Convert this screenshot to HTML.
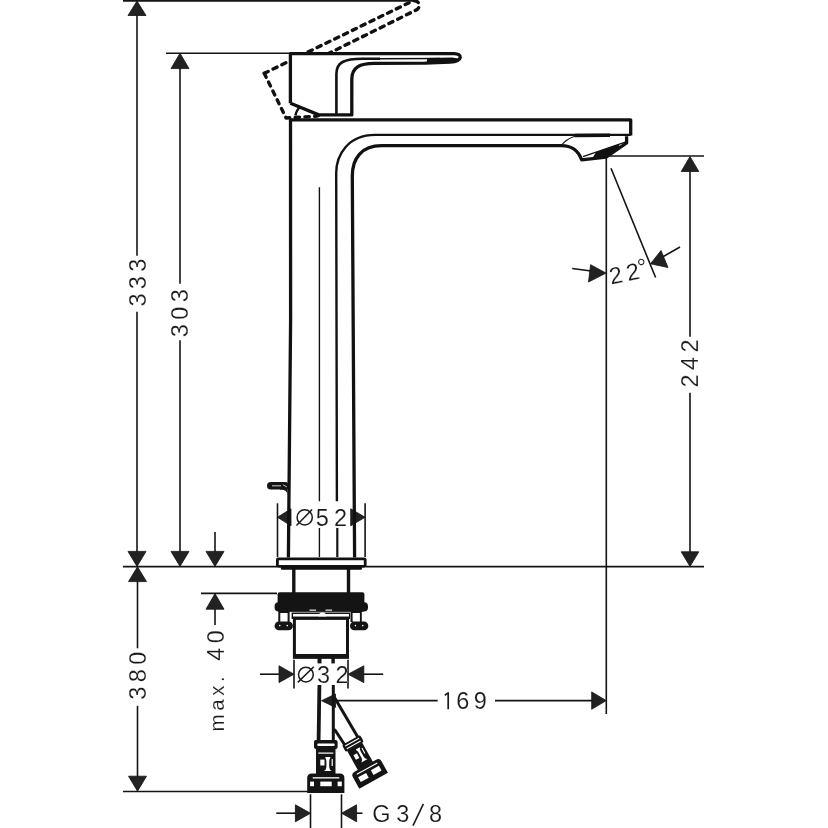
<!DOCTYPE html>
<html><head><meta charset="utf-8">
<style>
html,body{margin:0;padding:0;background:#fff;width:828px;height:828px;overflow:hidden}
svg{display:block;will-change:transform}
text{font-family:"Liberation Sans",sans-serif;fill:#1a1a1a}
</style></head><body>
<svg width="828" height="828" viewBox="0 0 828 828">
<rect width="828" height="828" fill="#fff"/>
<!-- ===== dimension lines ===== -->
<g stroke="#141414" stroke-width="1.6" fill="none">
  <line x1="123" y1="0.8" x2="414" y2="0.8" stroke-width="2"/>
  <!-- 333 -->
  <line x1="137" y1="14" x2="137" y2="255.7"/>
  <line x1="137" y1="311.7" x2="137" y2="553"/>
  <!-- 303 -->
  <line x1="166" y1="53.3" x2="291" y2="53.3"/>
  <line x1="180" y1="67" x2="180" y2="283.8"/>
  <line x1="180" y1="340.3" x2="180" y2="553"/>
  <!-- baseline -->
  <line x1="123" y1="566.6" x2="277" y2="566.6"/>
  <line x1="366" y1="566.6" x2="704" y2="566.6"/>
  <line x1="215" y1="532" x2="215" y2="553"/>
  <!-- 380 -->
  <line x1="137.5" y1="580" x2="137.5" y2="648.3"/>
  <line x1="137.5" y1="705.8" x2="137.5" y2="778"/>
  <line x1="123" y1="791.5" x2="308" y2="791.5"/>
  <!-- max 40 -->
  <line x1="201" y1="593.4" x2="277" y2="593.4"/>
  <line x1="215" y1="607" x2="215" y2="625"/>
  <!-- 242 -->
  <line x1="606" y1="156" x2="704" y2="156"/>
  <line x1="690" y1="170" x2="690" y2="336.8"/>
  <line x1="690" y1="392.8" x2="690" y2="553"/>
  <line x1="606.3" y1="156" x2="606.3" y2="714"/>
  <!-- 22 deg -->
  <line x1="611" y1="168.2" x2="655.6" y2="277.5"/>
  <line x1="572.2" y1="268.5" x2="593" y2="271.3"/>
  <line x1="680" y1="247" x2="662" y2="257.3"/>
  <!-- 169 -->
  <line x1="335" y1="700.6" x2="437.7" y2="700.6"/>
  <line x1="495" y1="700.6" x2="593" y2="700.6"/>
  <!-- D52 -->
  <line x1="277.5" y1="503.3" x2="277.5" y2="557"/>
  <line x1="365.1" y1="503.3" x2="365.1" y2="557"/>
  <!-- D32 -->
  <line x1="294" y1="659.7" x2="294" y2="688.5"/>
  <line x1="348" y1="659.7" x2="348" y2="688.5"/>
  <line x1="260" y1="674.2" x2="280" y2="674.2"/>
  <line x1="383.2" y1="674.2" x2="362" y2="674.2"/>
  <!-- G3/8 -->
  <line x1="310.5" y1="794.3" x2="310.5" y2="828"/>
  <line x1="341.5" y1="794.3" x2="341.5" y2="828"/>
  <line x1="276.3" y1="813.2" x2="297" y2="813.2"/>
  <line x1="362.4" y1="813.2" x2="355" y2="813.2"/>
  <!-- thin body lines -->
  <line x1="319.4" y1="187.3" x2="319.4" y2="501.2" stroke-width="1.4"/>
  <line x1="319.4" y1="528" x2="319.4" y2="557" stroke-width="1.4"/>
  <line x1="337.3" y1="528" x2="337.3" y2="557" stroke-width="2.2"/>
</g>
<!-- ===== arrowheads ===== -->
<g fill="#222" stroke="#111" stroke-width="0.8" stroke-miterlimit="10">
  <polygon points="137,1 128,15.5 146,15.5"/>
  <polygon points="137,566.4 128,551.4 146,551.4"/>
  <polygon points="180,53.2 171,68.6 189,68.6"/>
  <polygon points="180,566.4 171,551.4 189,551.4"/>
  <polygon points="215,566.4 206,551.4 224,551.4"/>
  <polygon points="137.5,566.8 128.5,581.6 146.5,581.6"/>
  <polygon points="137.5,791.2 128.5,776.2 146.5,776.2"/>
  <polygon points="215,593.6 206,609.2 224,609.2"/>
  <polygon points="690,156.5 681.2,171.5 698.8,171.5"/>
  <polygon points="690,566.4 681.2,551.8 698.8,551.8"/>
  <!-- 22 -->
  <polygon points="606,273.1 590.6,264.7 588.5,282.1"/>
  <polygon points="650.5,263.8 661,250.5 668,267.5"/>
  <!-- 169 -->
  <polygon points="606.2,700.6 591.7,691.9 591.7,709.3"/>
  <polygon points="321.5,700.7 335.5,694 335.5,707.4"/>
  <!-- D52 -->
  <polygon points="277.5,517.3 291,508.8 291,525.8"/>
  <polygon points="365.1,517.3 350.7,508.8 350.7,525.8"/>
  <!-- D32 -->
  <polygon points="294,674.2 279,665.8 279,682.6"/>
  <polygon points="348,674.2 363.8,665.8 363.8,682.6"/>
  <!-- G38 -->
  <polygon points="310.5,813.2 295.4,804.8 295.4,821.8"/>
  <polygon points="341.5,813.2 356.6,804.8 356.6,821.8"/>
</g>
<!-- ===== texts ===== -->
<g font-size="23.5" letter-spacing="4.4" stroke="#fff" stroke-width="0.15">
  <text transform="translate(145.6,280.4) rotate(-90)" text-anchor="middle">333</text>
  <text transform="translate(188.4,311) rotate(-90)" text-anchor="middle">303</text>
  <text transform="translate(146.2,673.5) rotate(-90)" text-anchor="middle">380</text>
  <text transform="translate(224,731.5) rotate(-90)" font-size="20.5" letter-spacing="3.6">max.</text>
  <text transform="translate(224,660.8) rotate(-90)" letter-spacing="4.4">40</text>
  <text transform="translate(698.3,361.2) rotate(-90)" text-anchor="middle">242</text>
  <text x="333.9" y="525.8" text-anchor="middle" letter-spacing="5.2">52</text>
  <text x="335.5" y="682.7" text-anchor="middle" letter-spacing="5.4">32</text>
  <text x="456.2" y="709.4">69</text>
  <path d="M444.8 695.2 L448.2 692.9 L448.2 709.3" fill="none" stroke="#1a1a1a" stroke-width="1.7" stroke-linejoin="round"/>
  <text x="372.3" y="821.7" letter-spacing="5.6">G3</text>
  <text x="428.9" y="821.7">8</text>
  <path d="M413 825.6 L423.4 803.8" fill="none" stroke="#1a1a1a" stroke-width="1.6"/>
  <text transform="translate(611,284.6) rotate(-11.5)">22<tspan dx="-5.5" dy="-3">°</tspan></text>
</g>
<g fill="none" stroke="#1a1a1a" stroke-width="1.5">
  <circle cx="304.7" cy="517.4" r="7.6"/>
  <line x1="296.5" y1="525.4" x2="312.1" y2="509.4"/>
  <circle cx="305.9" cy="674.6" r="7.4"/>
  <line x1="297.8" y1="682.4" x2="313.8" y2="666.8"/>
</g>
<!-- ===== faucet ===== -->
<!-- dashed raised handle -->
<g transform="translate(0.5,-0.8) rotate(-26 322.2 121.4)" fill="none" stroke="#111" stroke-width="3.4" stroke-dasharray="4.4 5.4" stroke-linecap="round" stroke-linejoin="round">
  <path d="M290.4 53.3 L455 53.3 A4.8 4.8 0 0 1 455 63 L335 63.8"/>
  <path d="M290.4 53.3 L290.4 103 L318.8 114.8 L352 115.4"/>
</g>
<!-- white occluder for real handle -->
<path d="M290.4 53.3 L455 53.3 A4.6 4.6 0 0 1 455 62.5 L374 63.6 L351.4 81.2 L351.4 114.9 L318.8 114.9 L290.4 103.3 Z" fill="#fff"/>
<g fill="none" stroke="#111" stroke-width="3.3" stroke-linejoin="round">
  <!-- handle -->
  <path d="M290.4 103.3 L290.4 53.6 L454 53.6 Q460.6 53.8 460.2 57.6 Q459.4 61.4 450 62.2 L425 63.2 L374.6 63.4 C359.6 63.4 351.8 67.4 351.8 79.4 L351.8 114.9 L318.8 114.9 L290.4 103.3"/>
  <path d="M336.4 114.9 L336.4 73.7 C336.4 62.5 344.2 58.7 362.4 58.7 L380 58.7" stroke-width="2.6"/>
  <path d="M378 58.8 L440 58.5" stroke-width="1.4"/>
  <path d="M427 57.9 L452 57.4 L458.5 58.6 Q456 62 450 62.6 L427 63.6 Z" fill="#111" stroke="none"/>
  <path d="M295.4 115.6 Q296.5 110 299.6 107.6" stroke-width="2.4"/>
  <!-- spout/body -->
  <path d="M288.4 557.5 L290.6 320 L290.5 119.9 L630.7 119.9 L630.7 135.4"/>
  <path d="M354.6 557.5 L352.3 176 C352.3 158 362 145.7 381.4 145.7 L561.2 145.7 C572 145.7 578 150 581.6 159.8 L606 157.2 L626.6 143 L626.6 136.2"/>
  <path d="M336.9 501.2 L336.2 173 C336.2 155 348 134.9 375 134.9 L630.7 134.9" stroke-width="2.4"/>
  <path d="M561.2 145.6 Q566 139 575 136.2" stroke-width="1.2"/>
  <path d="M575 135.5 L610 135.3" stroke-width="3.6"/>
</g>
<line x1="583" y1="156.6" x2="626" y2="141.8" stroke="#111" stroke-width="1.4"/>
<polygon points="592,158.8 606,157.4 621,147 618,144.6 596,152.2" fill="#111"/>
<!-- pop-up rod -->
<rect x="267" y="482.1" width="22" height="7.5" rx="3.75" fill="#141414"/>
<path d="M280 489 L287.5 489 L287.5 495 Q287 489.6 280 489.6 Z" fill="#141414"/>
<line x1="272" y1="485.8" x2="281" y2="485.8" stroke="#fff" stroke-width="1" opacity="0.8"/>
<line x1="283" y1="484.8" x2="287" y2="487" stroke="#fff" stroke-width="0.9" opacity="0.8"/>
<!-- base plate -->
<rect x="277.4" y="558.8" width="87.8" height="7.6" rx="1" fill="#fff" stroke="#111" stroke-width="2.8"/>
<rect x="280.9" y="565" width="81.1" height="4.7" rx="1" fill="#111"/>
<!-- stem -->
<g stroke="#141414" stroke-width="3">
  <line x1="293.8" y1="569" x2="293.8" y2="593" stroke-width="3.4"/>
  <line x1="348.5" y1="569" x2="348.5" y2="593" stroke-width="3.4"/>
</g>
<!-- nut -->
<g fill="#141414">
  <rect x="277.6" y="592.3" width="86.8" height="19.5" rx="2"/>
  <rect x="274.6" y="602.3" width="93.4" height="9.3" rx="4"/>
  <rect x="291.6" y="612.5" width="58.4" height="6.5"/>
  <rect x="278.3" y="611" width="11.3" height="11"/>
  <rect x="350.5" y="611" width="11.3" height="11"/>
  <rect x="274.6" y="621.5" width="18.3" height="8.7" rx="4.3"/>
  <rect x="350" y="621.5" width="18.3" height="8.7" rx="4.3"/>
</g>
<g fill="#fff">
  <rect x="280.3" y="613" width="7.3" height="8.5"/>
  <rect x="352.6" y="613" width="7.3" height="8.5"/>
  <rect x="293" y="614" width="56" height="2.6"/>
  <rect x="309.5" y="609.6" width="6.6" height="1.1"/>
  <rect x="325.5" y="609.6" width="6.6" height="1.1"/>
  <path d="M318.6 616.4 A3.9 3.9 0 0 1 326.4 616.4 Z"/>
  <circle cx="279.8" cy="625.6" r="0.8"/>
  <circle cx="287.2" cy="625.6" r="0.8"/>
  <circle cx="355.4" cy="625.6" r="0.8"/>
  <circle cx="362.8" cy="625.6" r="0.8"/>
</g>
<rect x="294.4" y="618.4" width="53.1" height="38.4" fill="#fff" stroke="#141414" stroke-width="3"/>
<rect x="293" y="654" width="56" height="4.8" fill="#141414"/>
<rect x="317.5" y="658" width="4" height="5.4" fill="#141414"/>
<rect x="331.4" y="658" width="3.4" height="5.4" fill="#141414"/>
<!-- hoses -->
<g stroke="#141414" stroke-width="3" fill="none">
  <line x1="319.4" y1="685" x2="318.6" y2="741" stroke-width="3.8"/>
  <line x1="333.3" y1="685" x2="333.3" y2="741"/>
  <line x1="334.5" y1="697.6" x2="359.2" y2="739.5"/>
  <line x1="334.5" y1="729.3" x2="345.3" y2="745.8"/>
</g>
<!-- fitting definition -->
<defs>
  <g id="fit">
    <!-- origin at collar top center; local coords: x -18.6..18.6, y 0..53 -->
    <rect x="-11.8" y="0" width="23.6" height="9" rx="2" fill="#141414"/>
    <rect x="-8.5" y="3.4" width="17.4" height="2.6" rx="1" fill="#fff"/>
    <rect x="-9.8" y="8.5" width="19.5" height="25.5" fill="#141414"/>
    <rect x="-7.5" y="12.5" width="15" height="1.2" fill="#fff"/>
    <rect x="-5.5" y="19.6" width="4.2" height="5.9" fill="#fff"/>
    <path d="M-0.4 17 L4.6 17 L4.4 18 Q3.4 19 3.4 22 L3.4 27 Q3.6 30 6 31 L-2 31 Q0.4 30 0.6 27 L0.6 22 Q0.6 19 -0.4 18 Z" fill="#fff"/>
    <rect x="5.8" y="19" width="1.2" height="7" fill="#fff"/>
    <path d="M-18.6 53 L-18.6 38 Q-18.6 33.5 -14 33.5 L14 33.5 Q18.6 33.5 18.6 38 L18.6 53 Z" fill="#141414"/>
    <rect x="-13.1" y="37.2" width="26.6" height="1.3" fill="#fff"/>
    <rect x="-15.7" y="41.6" width="3.9" height="4.6" fill="#fff"/>
    <rect x="-5.5" y="41.6" width="11.4" height="4.6" fill="#fff"/>
    <rect x="11.8" y="41.6" width="4.2" height="4.6" fill="#fff"/>
  </g>
  <g id="fit2">
    <rect x="-11.8" y="0" width="23.6" height="9" rx="2" fill="#141414"/>
    <rect x="-9" y="2.2" width="18" height="1.2" fill="#fff"/>
    <rect x="-9" y="5.8" width="18" height="1.2" fill="#fff"/>
    <rect x="-9.8" y="8.5" width="19.5" height="25.5" fill="#141414"/>
    <rect x="-6" y="16.5" width="4.5" height="5.9" fill="#fff"/>
    <path d="M-0.4 12 L4.6 12 L4.4 13 Q3.4 14 3.4 17 L3.4 24 Q3.6 27 6 28 L-2 28 Q0.4 27 0.6 24 L0.6 17 Q0.6 14 -0.4 13 Z" fill="#fff"/>
    <rect x="5.8" y="14" width="1.2" height="7" fill="#fff"/>
    <path d="M-18.6 53 L-18.6 38 Q-18.6 33.5 -14 33.5 L14 33.5 Q18.6 33.5 18.6 38 L18.6 53 Z" fill="#141414"/>
    <rect x="-13.1" y="36.6" width="26.6" height="1.3" fill="#fff"/>
    <rect x="-13.5" y="41" width="10.4" height="6.2" fill="#fff"/>
    <rect x="3.1" y="41" width="10.4" height="6.2" fill="#fff"/>
  </g>
</defs>
<use href="#fit" transform="translate(325.8,740)"/>
<use href="#fit2" transform="translate(351,740) rotate(-29) scale(0.88)"/>
</svg>
</body></html>
